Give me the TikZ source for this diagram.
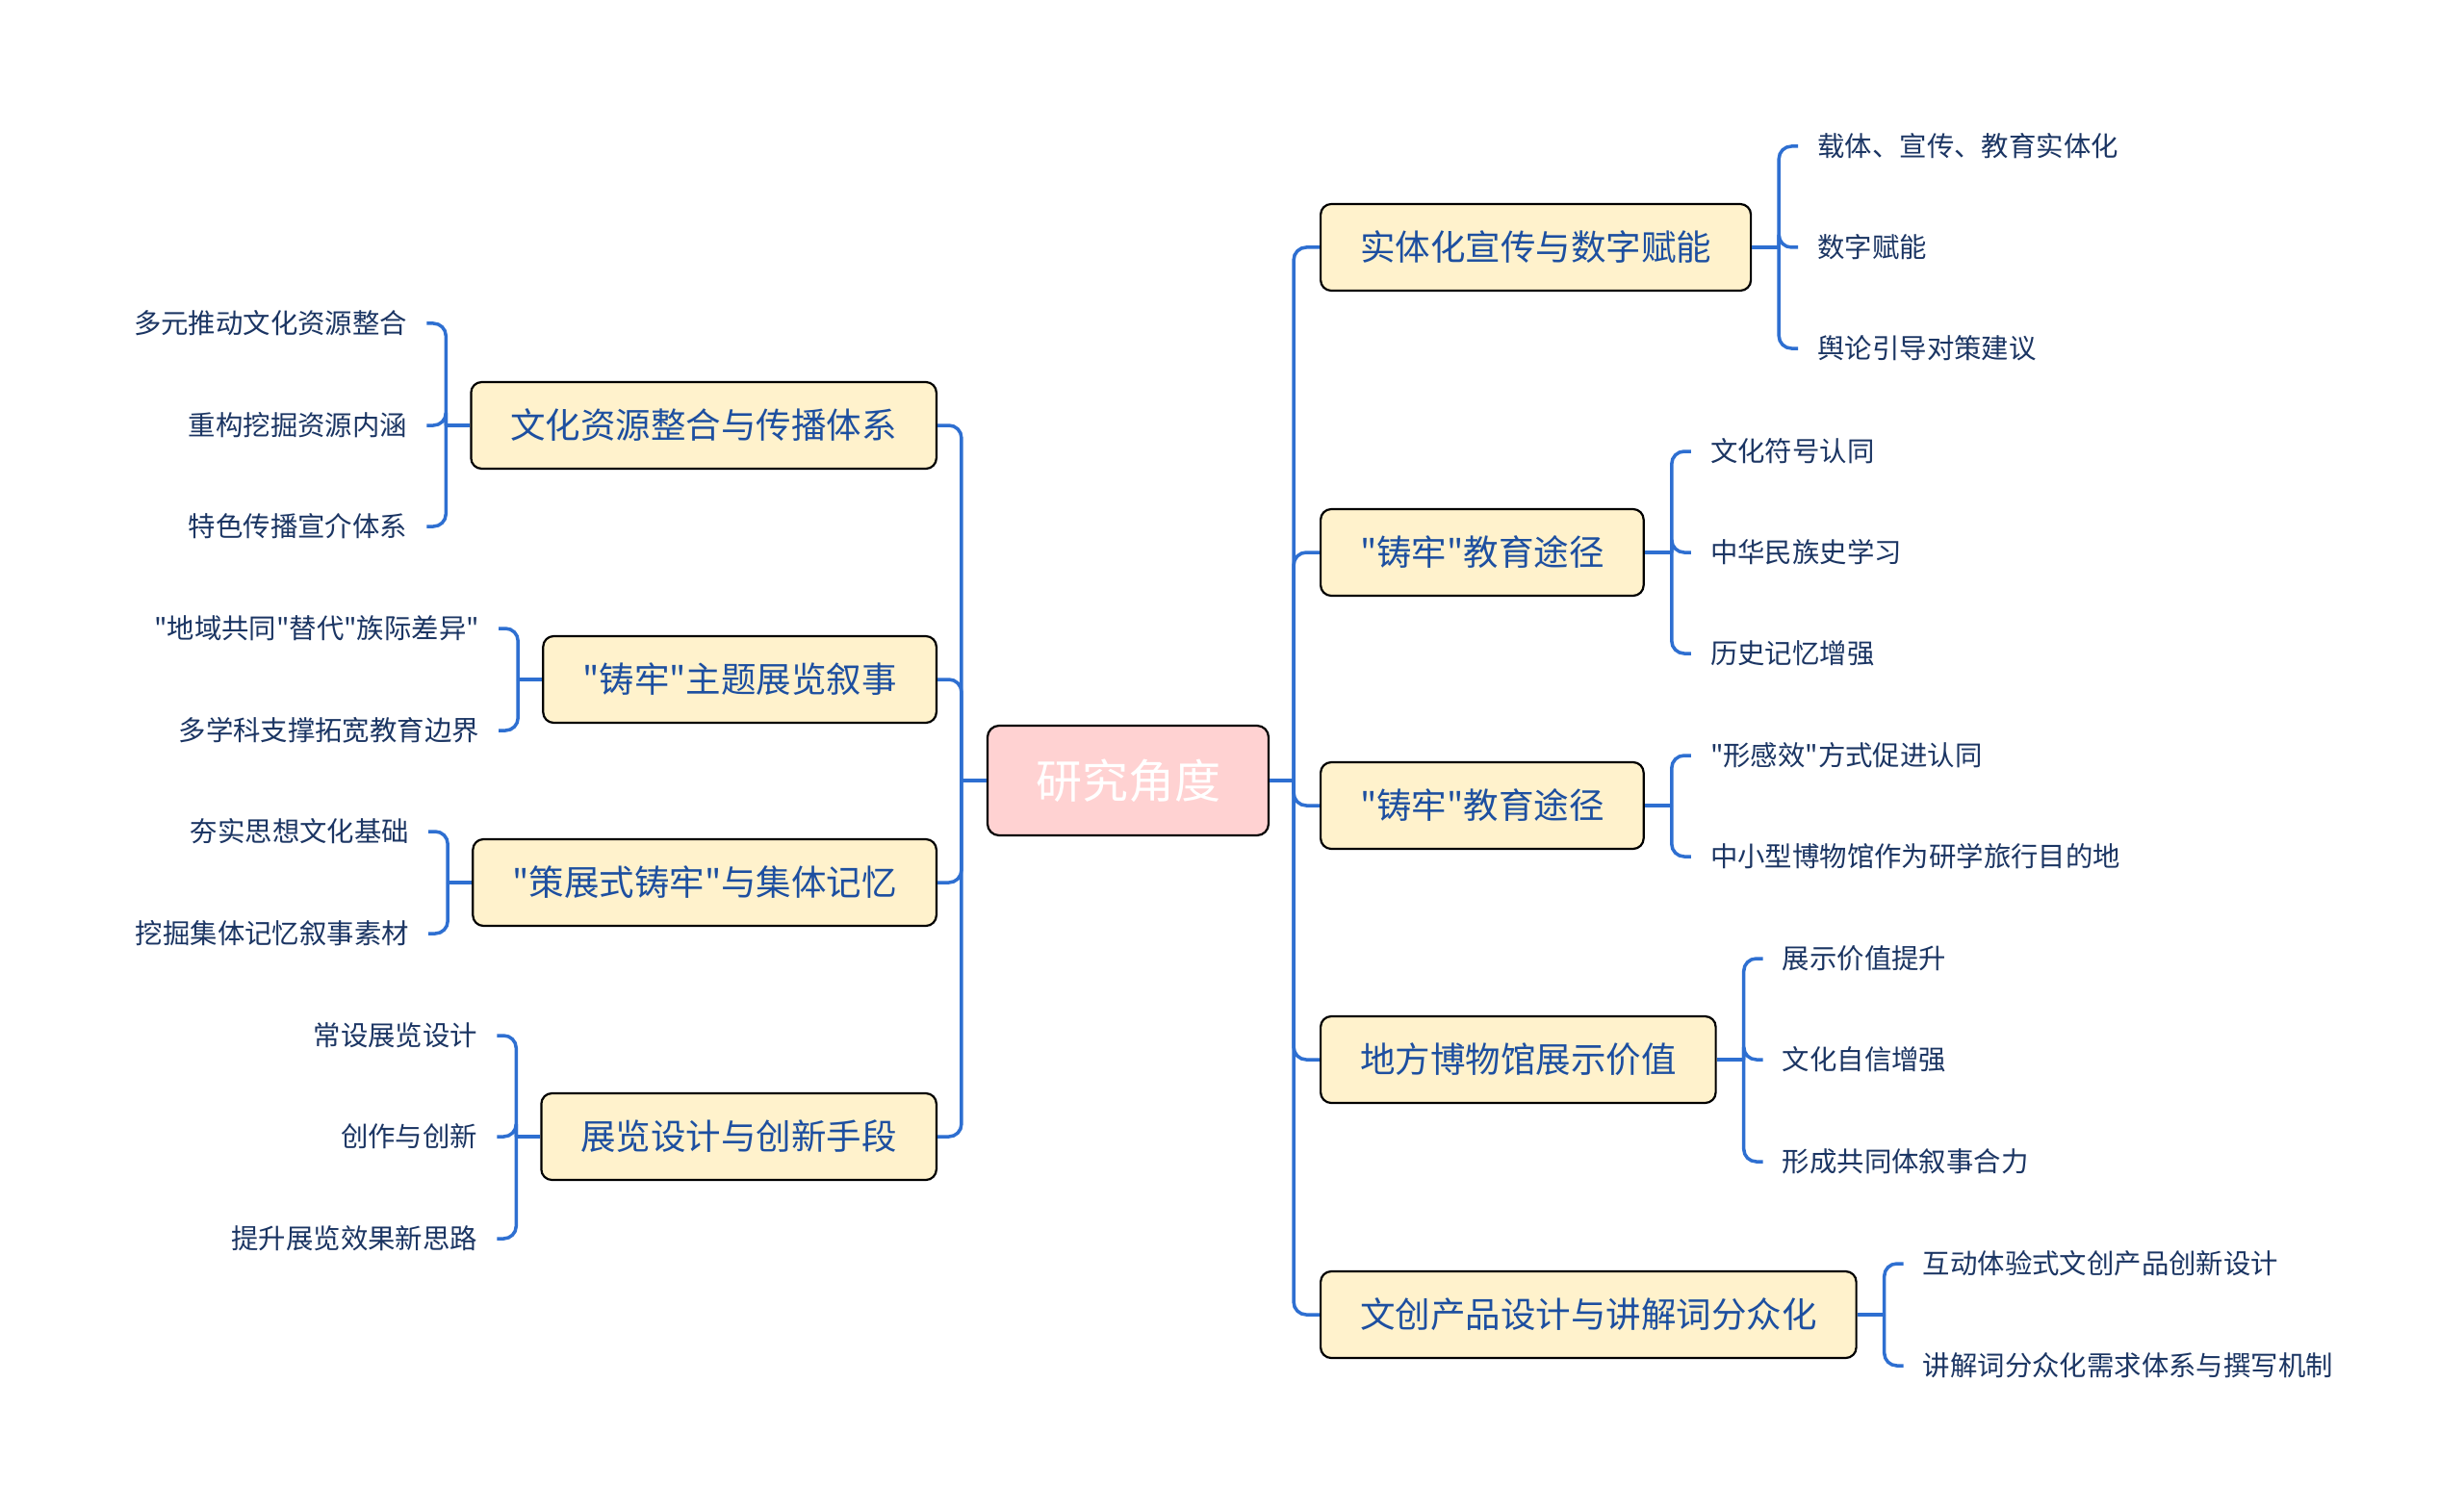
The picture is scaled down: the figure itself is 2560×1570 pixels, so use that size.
\documentclass[tikz,border=0pt]{standalone}
\usepackage{fontspec}
\newfontfamily\cjk{Noto Sans CJK SC}
\usetikzlibrary{calc}
\definecolor{linecol}{HTML}{2E6FD1}
\definecolor{nodefill}{HTML}{FFF2CC}
\definecolor{topictext}{HTML}{1D4FA0}
\definecolor{leaftext}{HTML}{1B3563}
\definecolor{rootfill}{HTML}{FFD2D2}
\begin{document}
\begin{tikzpicture}[x=1pt,y=-1pt,
  conn/.style={draw=linecol,line width=3.5pt,rounded corners=13pt},
  topic/.style={draw=black,line width=2.2pt,fill=nodefill,rounded corners=11pt,
    minimum height=90pt,inner xsep=41pt,inner ysep=0pt,
    font=\cjk\fontsize{36.5}{40}\selectfont,text=topictext},
  leaf/.style={inner xsep=20pt,inner ysep=2pt,
    font=\cjk\fontsize{28.4}{32}\selectfont,text=leaftext},
  rootbox/.style={draw=black,line width=2.2pt,fill=rootfill,rounded corners=12pt,
    minimum width=292pt,minimum height=114pt,inner sep=0pt,
    font=\cjk\fontsize{48}{52}\selectfont,text=white}]
\useasboundingbox (0,0) rectangle (2560,1570);
\fill[white] (0,0) rectangle (2560,1570);

% root
\node[rootbox] (c) at (1172,811) {研究角度};
\coordinate (rs) at ($(c.east)+(25,0)$);
\coordinate (ls) at ($(c.west)+(-26,0)$);

% right topics
\node[topic,anchor=west] (r1) at (1371,257) {实体化宣传与数字赋能};
\node[topic,anchor=west] (r2) at (1371,574) {"铸牢"教育途径};
\node[topic,anchor=west] (r3) at (1371,837) {"铸牢"教育途径};
\node[topic,anchor=west] (r4) at (1371,1101) {地方博物馆展示价值};
\node[topic,anchor=west] (r5) at (1371,1366) {文创产品设计与讲解词分众化};

% left topics
\node[topic,anchor=east] (l1) at (974,442) {文化资源整合与传播体系};
\node[topic,anchor=east] (l2) at (974,706) {"铸牢"主题展览叙事};
\node[topic,anchor=east] (l3) at (974,917) {"策展式铸牢"与集体记忆};
\node[topic,anchor=east] (l4) at (974,1181) {展览设计与创新手段};

% spines
\coordinate (s1) at ($(r1.east)+(28,0)$);
\coordinate (s2) at ($(r2.east)+(28,0)$);
\coordinate (s3) at ($(r3.east)+(28,0)$);
\coordinate (s4) at ($(r4.east)+(28,0)$);
\coordinate (s5) at ($(r5.east)+(28,0)$);
\coordinate (t1) at ($(l1.west)+(-25,0)$);
\coordinate (t2) at ($(l2.west)+(-25,0)$);
\coordinate (t3) at ($(l3.west)+(-25,0)$);
\coordinate (t4) at ($(l4.west)+(-25,0)$);

% right leaves
\node[leaf,anchor=west] (a1) at ($(s1)+(20,-105)$) {载体、宣传、教育实体化};
\node[leaf,anchor=west] (a2) at ($(s1)+(20,0)$) {数字赋能};
\node[leaf,anchor=west] (a3) at ($(s1)+(20,105)$) {舆论引导对策建议};
\node[leaf,anchor=west] (b1) at ($(s2)+(20,-105)$) {文化符号认同};
\node[leaf,anchor=west] (b2) at ($(s2)+(20,0)$) {中华民族史学习};
\node[leaf,anchor=west] (b3) at ($(s2)+(20,105)$) {历史记忆增强};
\node[leaf,anchor=west] (d1) at ($(s3)+(20,-52)$) {"形感效"方式促进认同};
\node[leaf,anchor=west] (d2) at ($(s3)+(20,53)$) {中小型博物馆作为研学旅行目的地};
\node[leaf,anchor=west] (e1) at ($(s4)+(20,-105)$) {展示价值提升};
\node[leaf,anchor=west] (e2) at ($(s4)+(20,0)$) {文化自信增强};
\node[leaf,anchor=west] (e3) at ($(s4)+(20,106)$) {形成共同体叙事合力};
\node[leaf,anchor=west] (f1) at ($(s5)+(20,-53)$) {互动体验式文创产品创新设计};
\node[leaf,anchor=west] (f2) at ($(s5)+(20,53)$) {讲解词分众化需求体系与撰写机制};

% left leaves
\node[leaf,anchor=east] (g1) at ($(t1)+(-20,-106)$) {多元推动文化资源整合};
\node[leaf,anchor=east] (g2) at ($(t1)+(-20,0)$) {重构挖掘资源内涵};
\node[leaf,anchor=east] (g3) at ($(t1)+(-20,105)$) {特色传播宣介体系};
\node[leaf,anchor=east] (h1) at ($(t2)+(-20,-53)$) {"地域共同"替代"族际差异"};
\node[leaf,anchor=east] (h2) at ($(t2)+(-20,53)$) {多学科支撑拓宽教育边界};
\node[leaf,anchor=east] (i1) at ($(t3)+(-20,-53)$) {夯实思想文化基础};
\node[leaf,anchor=east] (i2) at ($(t3)+(-20,53)$) {挖掘集体记忆叙事素材};
\node[leaf,anchor=east] (j1) at ($(t4)+(-20,-105)$) {常设展览设计};
\node[leaf,anchor=east] (j2) at ($(t4)+(-20,0)$) {创作与创新};
\node[leaf,anchor=east] (j3) at ($(t4)+(-20,106)$) {提升展览效果新思路};

% root connectors
\draw[conn] (c.east) -- (rs);
\draw[conn] (c.west) -- (ls);
\foreach \n in {r1,r2,r3,r4,r5} \draw[conn] (rs) |- (\n.west);
\foreach \n in {l1,l2,l3,l4} \draw[conn] (ls) |- (\n.east);

% topic to spine
\foreach \p/\s in {r1/s1,r2/s2,r3/s3,r4/s4,r5/s5} \draw[conn] (\p.east) -- (\s);
\foreach \p/\s in {l1/t1,l2/t2,l3/t3,l4/t4} \draw[conn] (\p.west) -- (\s);

% leaves right
\foreach \k in {a1,a2,a3} \draw[conn] (s1) |- (\k.west);
\foreach \k in {b1,b2,b3} \draw[conn] (s2) |- (\k.west);
\foreach \k in {d1,d2} \draw[conn] (s3) |- (\k.west);
\foreach \k in {e1,e2,e3} \draw[conn] (s4) |- (\k.west);
\foreach \k in {f1,f2} \draw[conn] (s5) |- (\k.west);
% leaves left
\foreach \k in {g1,g2,g3} \draw[conn] (t1) |- (\k.east);
\foreach \k in {h1,h2} \draw[conn] (t2) |- (\k.east);
\foreach \k in {i1,i2} \draw[conn] (t3) |- (\k.east);
\foreach \k in {j1,j2,j3} \draw[conn] (t4) |- (\k.east);
\end{tikzpicture}
\end{document}
